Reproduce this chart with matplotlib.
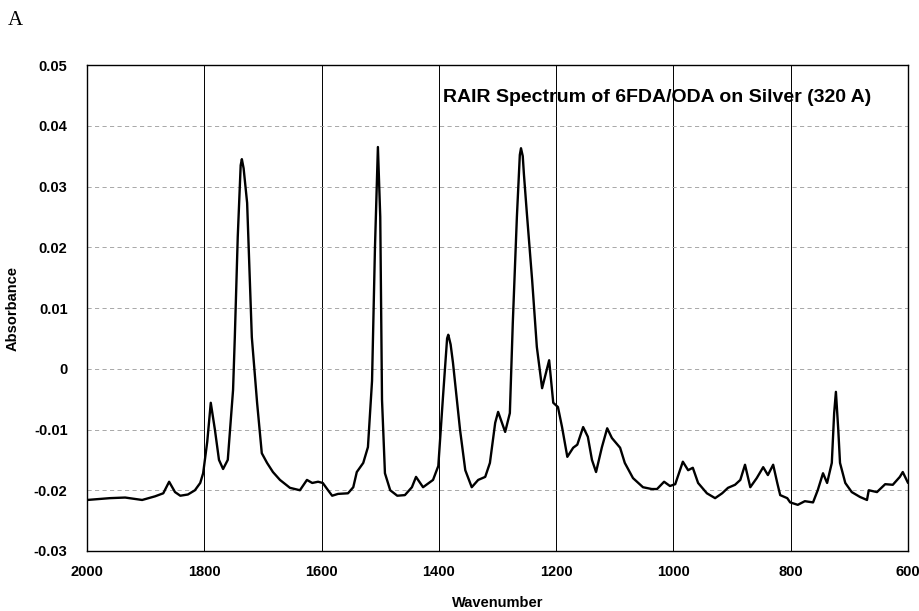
"""
RAIR spectrum of 6FDA/ODA on silver (320 A), redrawn from a scanned figure.
"""

import matplotlib
matplotlib.use("Agg")
import matplotlib.pyplot as plt

# ---------------------------------------------------------------------------
# Data
# ---------------------------------------------------------------------------

wavenumber = [
    2000, 1961, 1935, 1906, 1884, 1870, 1860, 1850, 1841, 1828,
    1816, 1807, 1802, 1795, 1789, 1782, 1775, 1768, 1760, 1751,
    1748, 1743, 1738, 1736, 1733, 1727, 1719, 1710, 1702, 1693,
    1683, 1671, 1654, 1637, 1625, 1616, 1606, 1598, 1589, 1582,
    1572, 1555, 1546, 1540, 1529, 1521, 1514, 1509, 1504, 1500,
    1497, 1492, 1483, 1471, 1458, 1446, 1439, 1427, 1410, 1401,
    1393, 1386, 1384, 1380, 1376, 1364, 1355, 1344, 1333, 1321,
    1313, 1304, 1299, 1287, 1279, 1274, 1267, 1262, 1260, 1257,
    1255, 1250, 1241, 1233, 1224, 1217, 1212, 1205, 1197, 1190,
    1181, 1171, 1164, 1154, 1146, 1139, 1132, 1122, 1113, 1105,
    1091, 1083, 1069, 1052, 1037, 1028, 1016, 1006, 997, 990,
    984, 975, 967, 958, 943, 929, 917, 907, 895, 886,
    878, 869, 858, 847, 839, 830, 823, 818, 806, 801,
    788, 776, 762, 754, 745, 738, 730, 726, 723, 719,
    716, 707, 696, 682, 670, 667, 653, 639, 626, 614,
    609, 600,
]

absorbance = [
    -0.0216, -0.0213, -0.0212, -0.0216, -0.0210, -0.0205, -0.0186, -0.0203, -0.0209, -0.0207,
    -0.0200, -0.0188, -0.0172, -0.0120, -0.0056, -0.0100, -0.0150, -0.0165, -0.0150, -0.0035,
    0.0052, 0.0217, 0.0335, 0.0345, 0.0330, 0.0273, 0.0052, -0.0056, -0.0139, -0.0155,
    -0.0170, -0.0183, -0.0196, -0.0200, -0.0183, -0.0188, -0.0186, -0.0188, -0.0200, -0.0209,
    -0.0206, -0.0205, -0.0195, -0.0170, -0.0155, -0.0129, -0.0020, 0.0200, 0.0365, 0.0250,
    -0.0051, -0.0172, -0.0200, -0.0209, -0.0208, -0.0195, -0.0178, -0.0195, -0.0183, -0.0160,
    -0.0046, 0.0050, 0.0056, 0.0040, 0.0010, -0.0100, -0.0167, -0.0195, -0.0183, -0.0178,
    -0.0155, -0.0089, -0.0071, -0.0104, -0.0073, 0.0075, 0.0250, 0.0352, 0.0363, 0.0350,
    0.0320, 0.0256, 0.0146, 0.0036, -0.0032, -0.0005, 0.0014, -0.0056, -0.0063, -0.0096,
    -0.0145, -0.0130, -0.0125, -0.0096, -0.0112, -0.0150, -0.0170, -0.0129, -0.0098, -0.0114,
    -0.0130, -0.0155, -0.0180, -0.0195, -0.0198, -0.0198, -0.0186, -0.0193, -0.0190, -0.0170,
    -0.0153, -0.0167, -0.0163, -0.0188, -0.0205, -0.0213, -0.0205, -0.0196, -0.0191, -0.0183,
    -0.0158, -0.0195, -0.0180, -0.0162, -0.0175, -0.0158, -0.0188, -0.0208, -0.0213, -0.0220,
    -0.0224, -0.0218, -0.0220, -0.0200, -0.0172, -0.0188, -0.0155, -0.0073, -0.0038, -0.0100,
    -0.0155, -0.0188, -0.0203, -0.0211, -0.0216, -0.0200, -0.0203, -0.0190, -0.0191, -0.0178,
    -0.0170, -0.0188,
]

x_ticks = [2000, 1800, 1600, 1400, 1200, 1000, 800, 600]
y_ticks = [0.05, 0.04, 0.03, 0.02, 0.01, 0.0, -0.01, -0.02, -0.03]
y_tick_labels = ["0.05", "0.04", "0.03", "0.02", "0.01", "0", "-0.01", "-0.02", "-0.03"]

TITLE = "RAIR Spectrum of 6FDA/ODA on Silver (320 A)"

# ---------------------------------------------------------------------------
# Plot
# ---------------------------------------------------------------------------

plt.rcParams["font.family"] = ["Liberation Sans", "DejaVu Sans"]

fig = plt.figure(figsize=(9.2, 6.11), dpi=100)
ax = fig.add_axes([0.0946, 0.0982, 0.8924, 0.7954])

# vertical grid solid, horizontal grid faint dashed (as in the scan)
for xv in x_ticks[1:-1]:
    ax.axvline(xv, color="black", linewidth=0.7, zorder=1)
for yv in y_ticks[1:-1]:
    ax.axhline(yv, color="#9a9a9a", linewidth=0.6, linestyle=(0, (5, 4)), zorder=1)

ax.plot(wavenumber, absorbance, color="black", linewidth=1.7, zorder=3,
        solid_joinstyle="round", solid_capstyle="round")

ax.set_xlim(2000, 600)
ax.set_ylim(-0.03, 0.05)
ax.set_xticks(x_ticks)
ax.set_xticklabels([str(v) for v in x_ticks])
ax.set_yticks(y_ticks)
ax.set_yticklabels(y_tick_labels)
ax.tick_params(axis="both", length=0, labelsize=10.5)
ax.tick_params(axis="y", pad=14)
ax.tick_params(axis="x", pad=10)
for lbl in ax.get_xticklabels() + ax.get_yticklabels():
    lbl.set_fontweight("bold")

for spine in ax.spines.values():
    spine.set_color("black")
    spine.set_linewidth(1.0)

ax.set_xlabel("Wavenumber", fontsize=10.5, fontweight="bold", labelpad=12)
ax.set_ylabel("Absorbance", fontsize=10.5, fontweight="bold", labelpad=10)

# in-plot title, placed in data coordinates (wavenumber, absorbance)
ax.text(1393, 0.0446, TITLE, fontsize=14, fontweight="bold",
        ha="left", va="center", zorder=4)

fig.text(0.009, 0.966, "A", fontsize=15, family="Liberation Serif",
         ha="left", va="center")

fig.savefig("out.png", dpi=100, facecolor="white")
